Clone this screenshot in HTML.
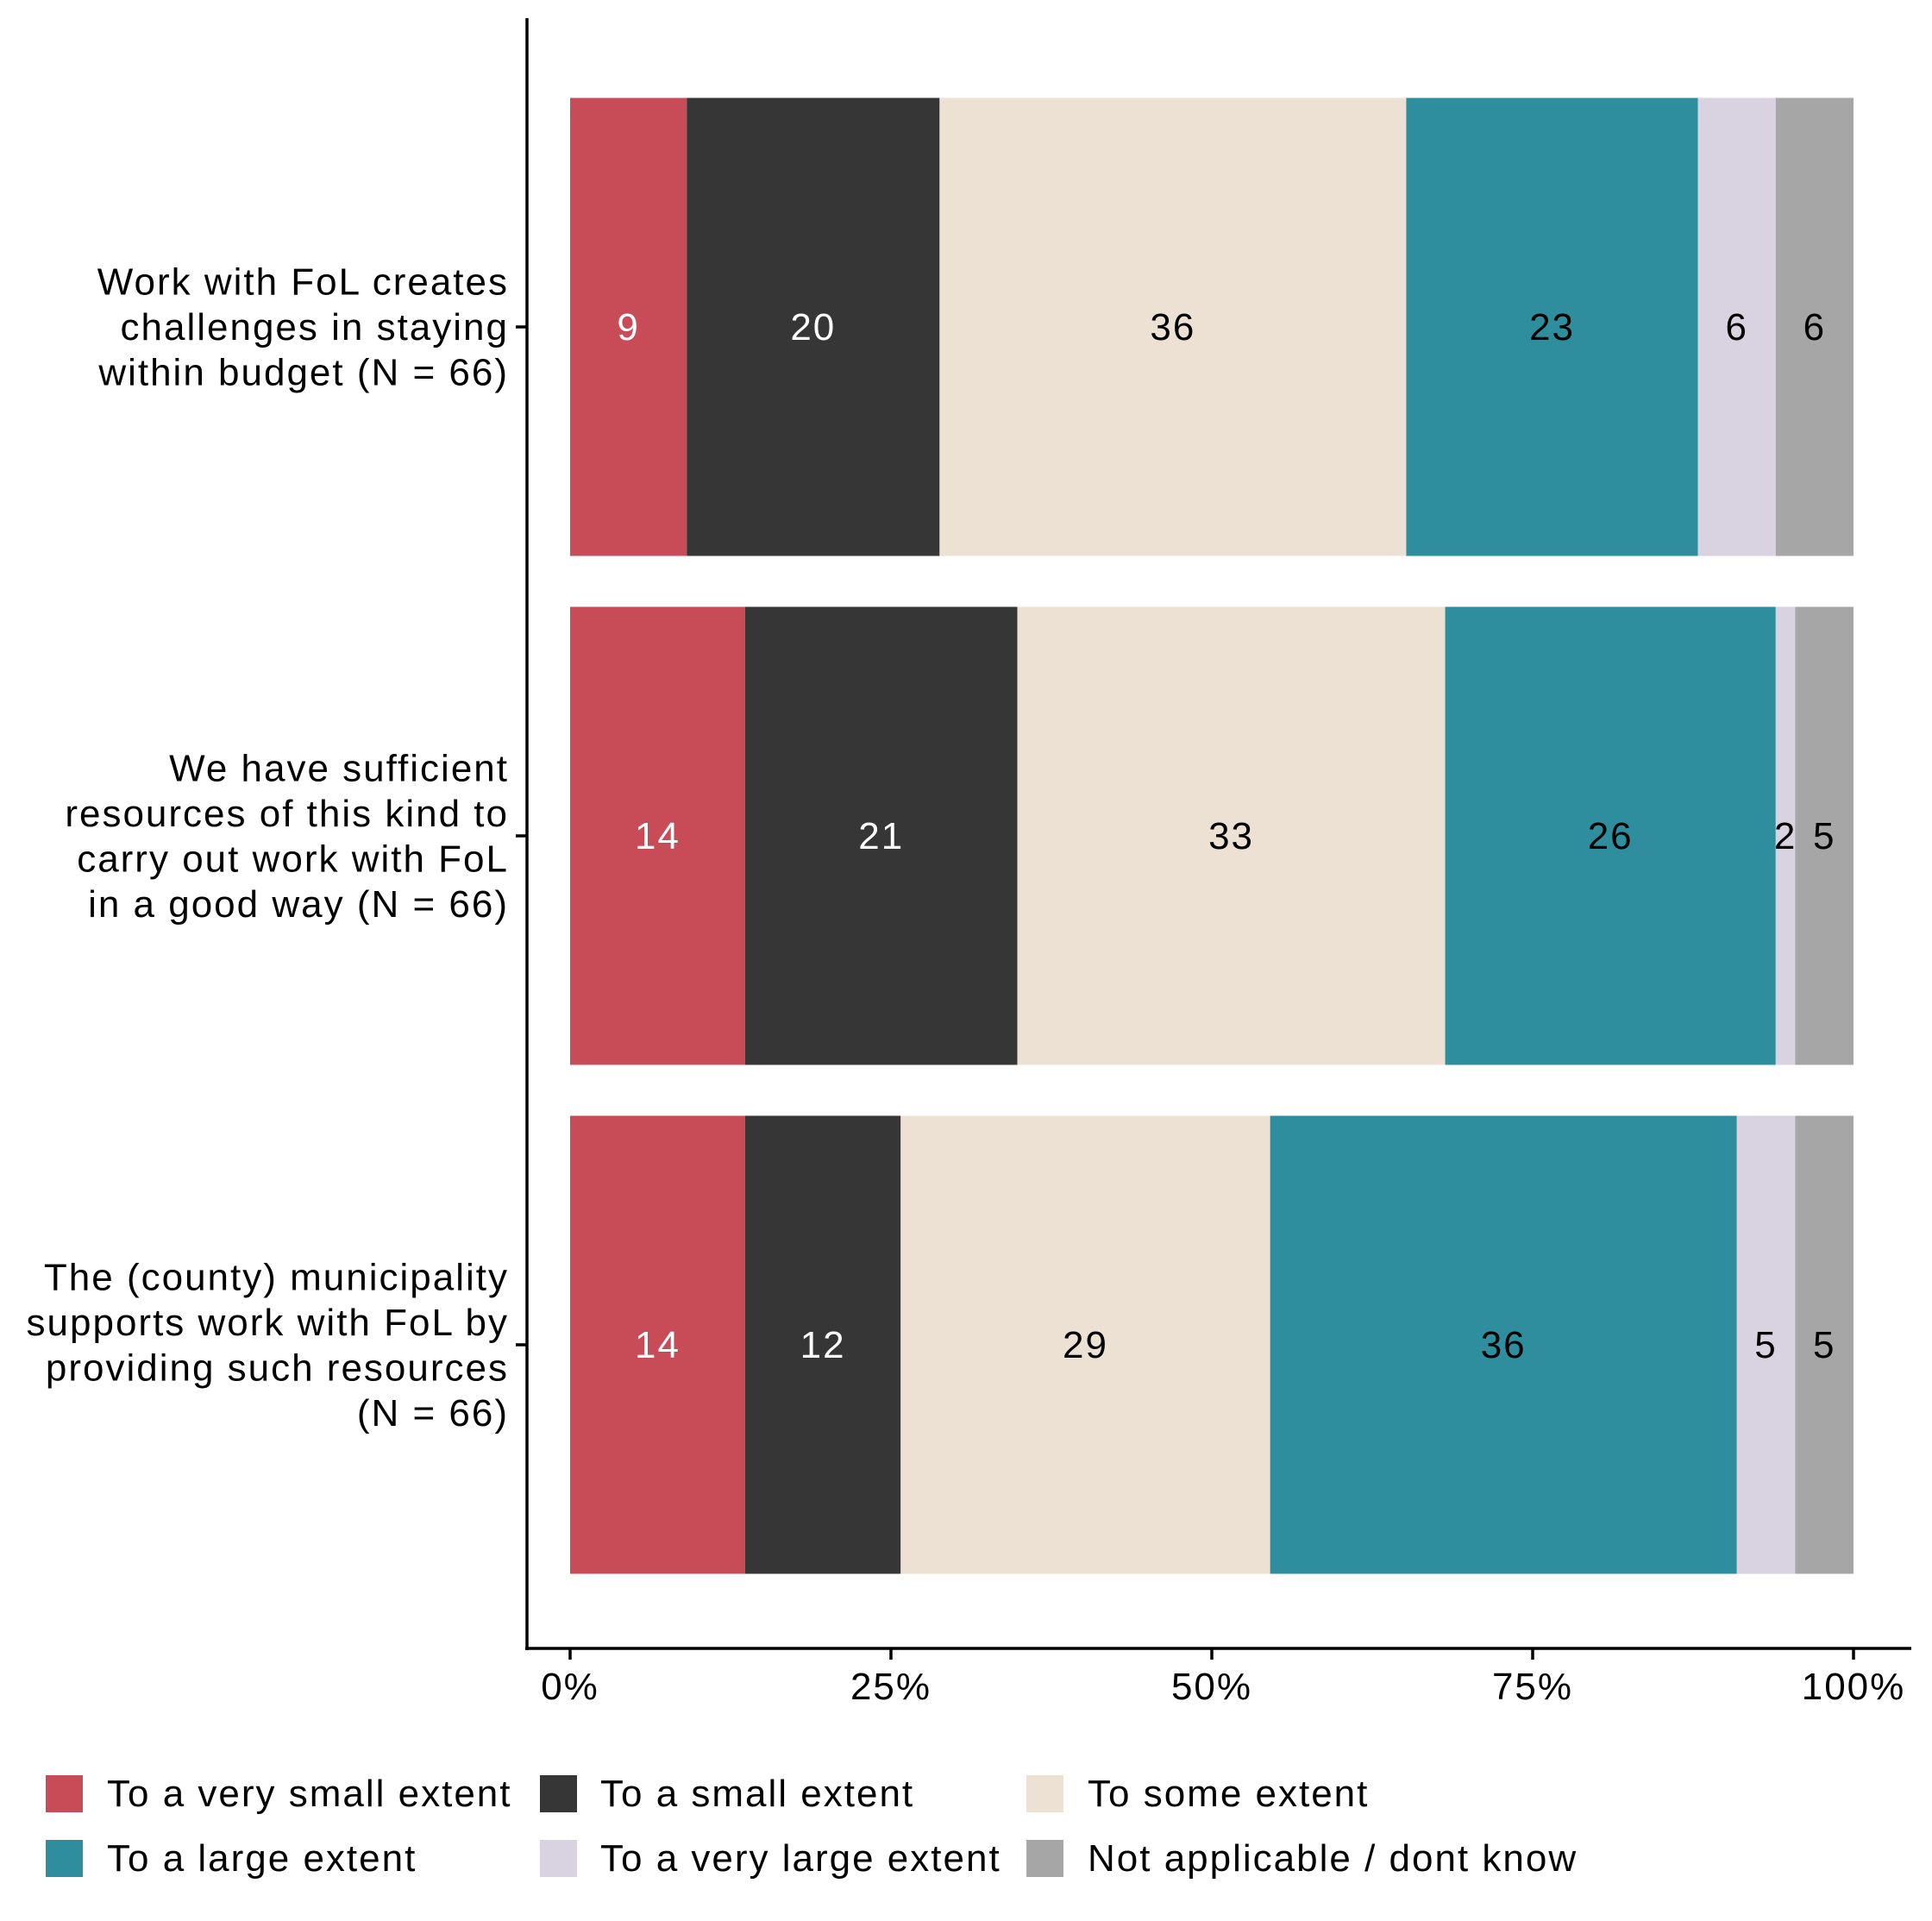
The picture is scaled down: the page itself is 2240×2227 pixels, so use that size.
<!DOCTYPE html>
<html><head><meta charset="utf-8"><style>
body{margin:0;background:#fff}
svg{display:block;font-family:"Liberation Sans",Arial,sans-serif}
svg text{letter-spacing:2px}
</style></head><body>
<svg id="chart" width="2240" height="2227" viewBox="0 0 2240 2227">
<g id="bars"></g>
<g id="axes"></g>
<g id="legend"></g>
</svg>
<script>
const categories = [
 ["Work with FoL creates","challenges in staying","within budget (N = 66)"],
 ["We have sufficient","resources of this kind to","carry out work with FoL","in a good way (N = 66)"],
 ["The (county) municipality","supports work with FoL by","providing such resources","(N = 66)"]
];
const seriesNames = ["To a very small extent","To a small extent","To some extent","To a large extent","To a very large extent","Not applicable / dont know"];
const colors = ["#c84b58","#363636","#ece1d2","#2e8e9e","#d9d2e0","#a6a6a6"];
const textColors = ["#fff","#fff","#000","#000","#000","#000"];
const row1Counts = [6,13,24,15,4,4];
const row2Counts = [9,14,22,17,1,3];
const row3Counts = [9,8,19,24,3,3];
const tickValues = [0,25,50,75,100];
const tickLabels = ["0%","25%","50%","75%","100%"];

const NS="http://www.w3.org/2000/svg";
function mk(tag,attrs,parent){const e=document.createElementNS(NS,tag);for(const k in attrs)e.setAttribute(k,attrs[k]);parent.appendChild(e);return e;}
const FS=44;
const x0=661,x1=2149;
const xs=v=>x0+(x1-x0)*v/100;
const rowCenters=[379,969,1559];
const barH=531;
const rows=[row1Counts,row2Counts,row3Counts];
const bars=document.getElementById('bars');
rows.forEach((counts,r)=>{
 const tot=counts.reduce((a,b)=>a+b,0);
 let cum=0;
 counts.forEach((c,i)=>{
  const p=c/tot*100;
  const xa=xs(cum), xb=xs(cum+p);
  const rect=mk('rect',{x:xa,y:rowCenters[r]-barH/2,width:xb-xa,height:barH,fill:colors[i]},bars);
  
  
  const t=mk('text',{x:(xa+xb)/2,y:rowCenters[r]+15,'text-anchor':'middle','font-size':FS,fill:textColors[i]},bars);
  t.textContent=Math.round(p);
  
  
  cum+=p;
 });
});
const axes=document.getElementById('axes');
mk('line',{x1:611,y1:21,x2:611,y2:1913,stroke:'#000','stroke-width':3.5},axes);
mk('line',{x1:609,y1:1911,x2:2216,y2:1911,stroke:'#000','stroke-width':3.5},axes);
tickValues.forEach((v,i)=>{
 mk('line',{x1:xs(v),y1:1911,x2:xs(v),y2:1924,stroke:'#000','stroke-width':3.5},axes);
 const t=mk('text',{x:xs(v),y:1970,'text-anchor':'middle','font-size':FS,fill:'#000'},axes);
 t.textContent=tickLabels[i];
 
 
});
categories.forEach((lines,r)=>{
 mk('line',{x1:598,y1:rowCenters[r],x2:611,y2:rowCenters[r],stroke:'#000','stroke-width':3.5},axes);
 const lh=52.5, n=lines.length;
 const g=mk('text',{'text-anchor':'end','font-size':FS,fill:'#000'},axes);
 
 
 lines.forEach((l,k)=>{
  const ts=mk('tspan',{x:590,y:rowCenters[r]+(k-(n-1)/2)*lh+15},g);
  ts.textContent=l;
 });
});
const legend=document.getElementById('legend');
const lx=[[53,124],[626,696],[1190,1261]];
const ly=[2079,2154];
seriesNames.forEach((s,i)=>{
 const col=i%3,row=Math.floor(i/3);
 const item=mk('g',{},legend);
 
 
 mk('rect',{x:lx[col][0],y:ly[row]-21,width:43,height:43,fill:colors[i]},item);
 const t=mk('text',{x:lx[col][1],y:ly[row]+15,'font-size':FS,fill:'#000'},item);
 t.textContent=s;
});
</script>
</body></html>
